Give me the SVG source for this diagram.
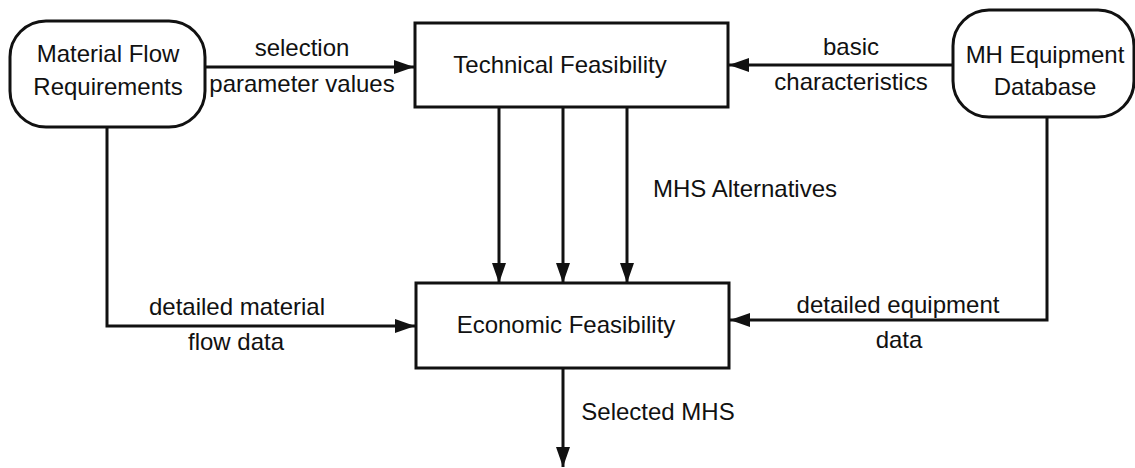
<svg xmlns="http://www.w3.org/2000/svg" width="1135" height="468" viewBox="0 0 1135 468">
<style>
.box{fill:#fff;stroke:#111;stroke-width:3}
.ln{fill:none;stroke:#111;stroke-width:3}
text{font-family:"Liberation Sans",Arial,sans-serif;font-size:24px;fill:#111;text-anchor:middle}
</style>
<defs>
<marker id="ah" markerWidth="20" markerHeight="14" refX="20" refY="7" orient="auto" markerUnits="userSpaceOnUse">
<path d="M0,0 L20,7 L0,14 Z" fill="#111"/>
</marker>
</defs>
<rect width="1135" height="468" fill="#fff"/>
<g id="connectors">
<line class="ln" x1="205" y1="67" x2="414" y2="67" marker-end="url(#ah)"/>
<line class="ln" x1="953" y1="65" x2="729" y2="65" marker-end="url(#ah)"/>
<line class="ln" x1="499" y1="107" x2="499" y2="283" marker-end="url(#ah)"/>
<line class="ln" x1="563" y1="107" x2="563" y2="283" marker-end="url(#ah)"/>
<line class="ln" x1="627" y1="107" x2="627" y2="283" marker-end="url(#ah)"/>
<polyline class="ln" points="107,127 107,326 415,326" marker-end="url(#ah)"/>
<polyline class="ln" points="1047,117 1047,320 730,320" marker-end="url(#ah)"/>
<line class="ln" x1="563" y1="368" x2="563" y2="467" marker-end="url(#ah)"/>
<text x="302" y="56">selection</text>
<text x="302" y="92">parameter values</text>
<text x="851" y="55">basic</text>
<text x="851" y="90">characteristics</text>
<text x="745" y="197">MHS Alternatives</text>
<text x="237" y="315">detailed material</text>
<text x="236" y="350">flow data</text>
<text x="898" y="313">detailed equipment</text>
<text x="899" y="348">data</text>
<text x="658" y="420">Selected MHS</text>
</g>
<g id="material-flow-requirements">
<rect class="box" x="10" y="21" width="195" height="106" rx="36" ry="36"/>
<text x="108" y="62">Material Flow</text>
<text x="108" y="95">Requirements</text>
</g>
<g id="technical-feasibility">
<rect class="box" x="415" y="23" width="313" height="84"/>
<text x="560" y="73">Technical Feasibility</text>
</g>
<g id="mh-equipment-database">
<rect class="box" x="953" y="10" width="181" height="107" rx="36" ry="36"/>
<text x="1045" y="63">MH Equipment</text>
<text x="1045" y="95">Database</text>
</g>
<g id="economic-feasibility">
<rect class="box" x="416" y="283" width="313" height="85"/>
<text x="566" y="333">Economic Feasibility</text>
</g>
</svg>
